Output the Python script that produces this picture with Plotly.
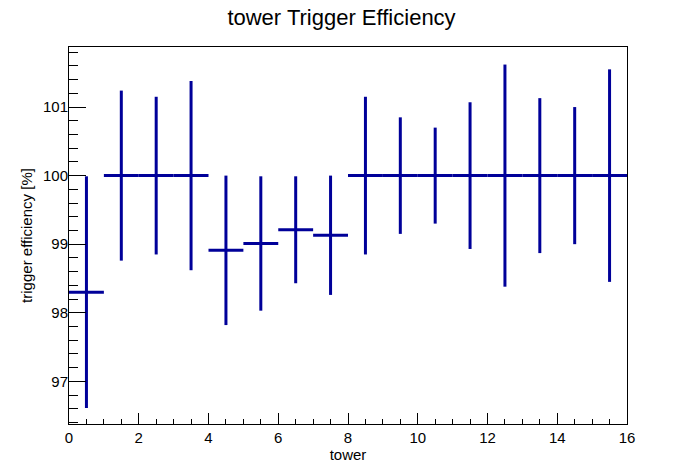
import plotly.graph_objects as go

# bin centres (tower index), efficiency and symmetric errors in %
tower = [0.5, 1.5, 2.5, 3.5, 4.5, 5.5, 6.5, 7.5,
         8.5, 9.5, 10.5, 11.5, 12.5, 13.5, 14.5, 15.5]
eff = [98.30, 100.0, 100.0, 100.0, 98.91, 99.01, 99.21, 99.13,
       100.0, 100.0, 100.0, 100.0, 100.0, 100.0, 100.0, 100.0]
err = [1.69, 1.24, 1.15, 1.38, 1.09, 0.98, 0.78, 0.87,
       1.15, 0.85, 0.70, 1.07, 1.62, 1.13, 1.00, 1.55]
half_width = [0.5] * len(tower)

blue = "#000099"
font = "Liberation Sans, Arial, sans-serif"

fig = go.Figure()
fig.add_trace(go.Scatter(
    x=tower, y=eff, mode="markers",
    marker=dict(size=1, color=blue, opacity=0),
    error_x=dict(type="data", array=half_width, width=0, thickness=3, color=blue),
    error_y=dict(type="data", array=err, width=0, thickness=3, color=blue),
    showlegend=False,
))

fig.update_layout(
    width=696, height=472,
    margin=dict(l=69, r=69, t=47, b=48, autoexpand=False),
    paper_bgcolor="white", plot_bgcolor="white",
    font=dict(family=font, size=15, color="black"),
    title=dict(text="tower Trigger Efficiency", x=341.5 / 696, xanchor="center",
               y=1 - 17 / 472, yanchor="middle", yref="container",
               automargin=False, font=dict(size=22, family=font)),
)
fig.update_xaxes(
    range=[0, 16], dtick=2, tick0=0, automargin=False,
    showgrid=False, zeroline=False,
    showline=True, mirror=True, linecolor="black", linewidth=1,
    ticks="inside", ticklen=11, tickcolor="black",
    minor=dict(ticks="inside", ticklen=5, dtick=0.5, tickcolor="black", showgrid=False),
    title=dict(text="tower", standoff=4, font=dict(size=15)),
)
fig.update_yaxes(
    range=[96.377, 101.876], dtick=1, tick0=97, automargin=False,
    showgrid=False, zeroline=False,
    showline=True, mirror=True, linecolor="black", linewidth=1,
    ticks="inside", ticklen=17, tickcolor="black", ticklabelstandoff=-3,
    minor=dict(ticks="inside", ticklen=9, dtick=0.2, tickcolor="black", showgrid=False),
    title=dict(text="trigger efficiency [%]", standoff=6, font=dict(size=15)),
)

# the page has a default 8px body margin; remove it so the figure sits at 0,0
fig.write_html("out.html", config={"displayModeBar": False},
               post_script="document.body.style.margin='0';")
